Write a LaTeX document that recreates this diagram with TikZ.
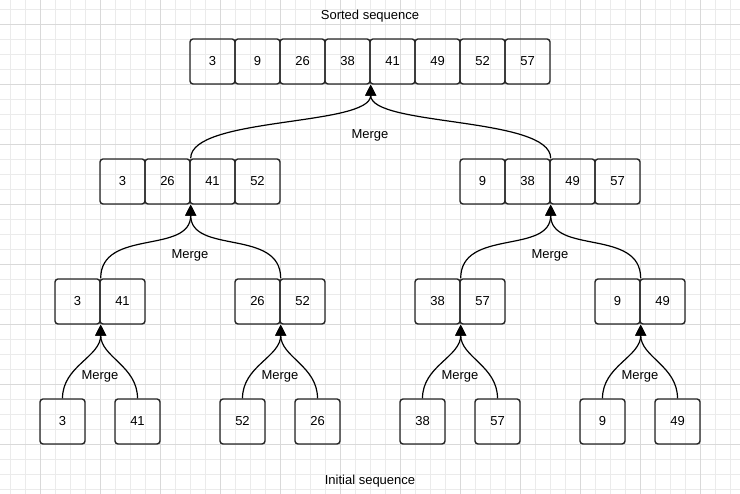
\documentclass[tikz,border=0pt]{standalone}
\usepackage{fontspec}
\setmainfont{Liberation Sans}
\usetikzlibrary{arrows.meta}
\begin{document}
\begin{tikzpicture}[x=1pt,y=1pt,
  minorgrid/.style={draw=black!8,line width=0.8pt},
  majorgrid/.style={draw=black!15,line width=0.8pt},
  cell/.style={draw=black!85,rounded corners=3pt,line width=1.4pt,
    minimum width=45pt,minimum height=45pt,inner sep=0pt,
    font=\fontsize{13}{15}\selectfont},
  lbl/.style={font=\fontsize{13}{15}\selectfont,inner sep=1pt},
  conn/.style={line width=1.2pt,-{Triangle[length=11pt,width=11pt]}},
  every to/.style={out=90,in=-90}]
% canvas and background grid
\fill[white] (0,0) rectangle (740,494);
\useasboundingbox (0,0) rectangle (740,494);
\foreach \x in {10,25,...,730} \draw[minorgrid] (\x,0) -- (\x,494);
\foreach \y in {5,20,...,494} \draw[minorgrid] (0,\y) -- (740,\y);
\foreach \x in {40,100,...,730} \draw[majorgrid] (\x,0) -- (\x,494);
\foreach \y in {50,110,...,494} \draw[majorgrid] (0,\y) -- (740,\y);

% sorted sequence (top row)
\foreach \v [count=\i from 0] in {3,9,26,38,41,49,52,57}
  \node[cell] (t\i) at (212.5+45*\i,432.5) {\v};

% second row
\foreach \v [count=\i from 0] in {3,26,41,52}
  \node[cell] (m\i) at (122.5+45*\i,312.5) {\v};
\foreach \v [count=\i from 0] in {9,38,49,57}
  \node[cell] (n\i) at (482.5+45*\i,312.5) {\v};

% third row (pairs)
\node[cell] (p0) at (77.5,192.5) {3};
\node[cell] (p1) at (122.5,192.5) {41};
\node[cell] (q0) at (257.5,192.5) {26};
\node[cell] (q1) at (302.5,192.5) {52};
\node[cell] (r0) at (437.5,192.5) {38};
\node[cell] (r1) at (482.5,192.5) {57};
\node[cell] (s0) at (617.5,192.5) {9};
\node[cell] (s1) at (662.5,192.5) {49};

% initial sequence (bottom row)
\node[cell] (b0) at (62.5,72.5) {3};
\node[cell] (b1) at (137.5,72.5) {41};
\node[cell] (b2) at (242.5,72.5) {52};
\node[cell] (b3) at (317.5,72.5) {26};
\node[cell] (b4) at (422.5,72.5) {38};
\node[cell] (b5) at (497.5,72.5) {57};
\node[cell] (b6) at (602.5,72.5) {9};
\node[cell] (b7) at (677.5,72.5) {49};

% captions
\node[lbl] (top) at (370,478) {Sorted sequence};
\node[lbl] (bot) at (370,13) {Initial sequence};
\node[lbl] (mg0) at (370,359) {Merge};
\node[lbl] (mg1) at (190,239) {Merge};
\node[lbl] (mg2) at (550,239) {Merge};
\node[lbl] (mg3) at (100,118) {Merge};
\node[lbl] (mg4) at (280,118) {Merge};
\node[lbl] (mg5) at (460,118) {Merge};
\node[lbl] (mg6) at (640,118) {Merge};

% merges: bottom row into pairs
\draw[conn] (b0.north) to (p0.south east);
\draw[conn] (b1.north) to (p0.south east);
\draw[conn] (b2.north) to (q0.south east);
\draw[conn] (b3.north) to (q0.south east);
\draw[conn] (b4.north) to (r0.south east);
\draw[conn] (b5.north) to (r0.south east);
\draw[conn] (b6.north) to (s0.south east);
\draw[conn] (b7.north) to (s0.south east);

% merges: pairs into groups of four
\draw[conn] (p0.north east) to[looseness=1.1] (m1.south east);
\draw[conn] (q0.north east) to[looseness=1.1] (m1.south east);
\draw[conn] (r0.north east) to[looseness=1.1] (n1.south east);
\draw[conn] (s0.north east) to[looseness=1.1] (n1.south east);

% final merge
\draw[conn] (m1.north east) to[looseness=0.55] (t3.south east);
\draw[conn] (n1.north east) to[looseness=0.55] (t3.south east);
\end{tikzpicture}
\end{document}
